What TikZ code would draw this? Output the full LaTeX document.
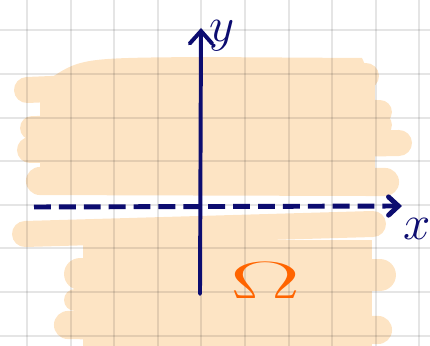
\documentclass[tikz,border=0pt]{standalone}
\usetikzlibrary{arrows.meta}
\definecolor{peach}{RGB}{253,228,196}
\definecolor{navy}{RGB}{12,12,112}
\definecolor{omegaorange}{RGB}{255,100,0}
\begin{document}
\begin{tikzpicture}[x=0.025cm,y=-0.025cm,line join=round,
  blob/.style={draw=peach,line cap=round},
  gridline/.style={draw=black,opacity=0.1,line width=1.4pt},
  axis/.style={draw=navy,line width=2.8pt}]
  \useasboundingbox (0,0) rectangle (430,346);
  % upper half of the shaded region
  \fill[peach] (45,82) .. controls (80,58) .. (200,57) -- (362,58) -- (372,80) -- (45,92) -- cycle;
  \fill[peach] (40,80) rectangle (375,190);
  \draw[blob,line width=18.5pt] (27,90) -- (366,76);
  \draw[blob,line width=17pt] (60,108) -- (380,112);
  \draw[blob,line width=17pt] (32,128) -- (380,125);
  \draw[blob,line width=18.5pt] (30,150) -- (399,143);
  \draw[blob,line width=20pt] (40,181) -- (385,182);
  % lower half
  \fill[peach] (83,240) rectangle (372,346);
  \draw[blob,line width=18.5pt] (25,234) -- (373,224);
  \draw[blob,line width=22.7pt] (80,274) -- (380,275);
  \draw[blob,line width=15.6pt] (75,300) -- (350,300);
  \draw[blob,line width=20pt] (68,325) -- (378,330);
  % grid
  \foreach \i in {0,...,9}
    \draw[gridline] ({27+43.6*\i},0) -- ({27+43.6*\i},346);
  \foreach \j in {0,...,7}
    \draw[gridline] (0,{30.4+43.6*\j}) -- (430,{30.4+43.6*\j});
  % axes
  \coordinate (ybot) at (200,294);
  \coordinate (ytop) at (201,28);
  \coordinate (xleft) at (34,207);
  \coordinate (xright) at (402,206);
  \draw[axis,line width=3.5pt,dash pattern=on 12pt off 5.7pt,-{Straight Barb[length=7pt,width=13pt,line cap=round]}] (xleft) -- (xright);
  \draw[axis,line cap=round,-{Straight Barb[length=9pt,width=16pt,line cap=round]}] (ybot) -- (ytop);
  \node[navy,anchor=base west,inner sep=0pt,font=\Huge,scale=1.4] (ylabel) at (209,42) {$y$};
  \node[navy,anchor=base west,inner sep=0pt,font=\Huge,scale=1.4] (xlabel) at (403,240) {$x$};
  \node[omegaorange,xscale=3,yscale=1.5,font=\Huge] (omega) at (266,281) {$\Omega$};
\end{tikzpicture}
\end{document}
